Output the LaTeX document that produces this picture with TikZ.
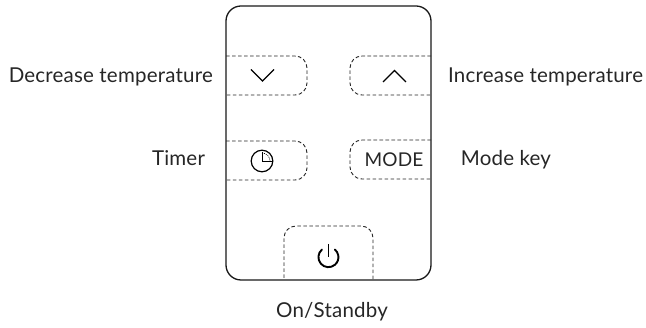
\documentclass[tikz,border=0pt]{standalone}
\usepackage{fontspec}
\setmainfont{Lato}[LetterSpace=1]
\tikzset{
  x=1pt,y=-1pt,
  body/.style={draw=black!90,line width=1.3pt,rounded corners=15pt},
  keyline/.style={draw=black!85,line width=0.9pt,dash pattern=on 3.6pt off 2.4pt},
  glyph/.style={draw=black,line width=1.4pt},
  lbl/.style={font=\fontsize{20.5}{23}\selectfont,text=black!85,inner sep=0pt,anchor=base},
}
\begin{document}
\begin{tikzpicture}
\useasboundingbox (0,0) rectangle (646,328);
% body
\draw[body] (226,6) rectangle (431,280);
% dashed keys
\draw[keyline] (226,56) -- (295,56) arc[start angle=90,end angle=0,radius=12pt] -- (307,83) arc[start angle=0,end angle=-90,radius=12pt] -- (226,95);
\draw[keyline] (431,56) -- (362,56) arc[start angle=90,end angle=180,radius=12pt] -- (350,83) arc[start angle=180,end angle=270,radius=12pt] -- (431,95);
\draw[keyline] (226,141) -- (295,141) arc[start angle=90,end angle=0,radius=12pt] -- (307,168) arc[start angle=0,end angle=-90,radius=12pt] -- (226,180);
\draw[keyline] (431,140) -- (362,140) arc[start angle=90,end angle=180,radius=12pt] -- (350,167) arc[start angle=180,end angle=270,radius=12pt] -- (431,179);
\draw[keyline] (284,278) -- (284,238) arc[start angle=180,end angle=90,radius=12pt] -- (361,226) arc[start angle=90,end angle=0,radius=12pt] -- (373,280);
% glyphs
\draw[glyph] (251,69.5) -- (262.5,81) -- (274,69.5);
\draw[glyph] (383,82) -- (394.5,70.5) -- (406,82);
\draw[glyph,line width=1.2pt] (262,161) circle[radius=10.8pt];
\draw[black,line width=0.9pt] (262,152) -- (262,161) -- (272,161);
\draw[black,line width=0.6pt,dash pattern=on 1pt off 1pt] (262,153) arc[start angle=90,end angle=0,radius=8pt];
\draw[glyph,line width=1.9pt] (328.5,244) -- (328.5,257);
\draw[glyph,line width=1.9pt,line cap=round] (322,249.5) arc[start angle=130,end angle=410,radius=10pt];
% texts
\node[lbl,font=\fontsize{19}{21}\selectfont] (mode) at (394,167) {MODE};
\node[lbl,anchor=base east] (dec) at (213,83) {Decrease temperature};
\node[lbl,anchor=base west] (inc) at (448,83) {Increase temperature};
\node[lbl] (timer) at (178.5,166) {Timer};
\node[lbl] (modekey) at (506,166) {Mode key};
\node[lbl] (standby) at (332,318) {On/Standby};
\end{tikzpicture}
\end{document}
